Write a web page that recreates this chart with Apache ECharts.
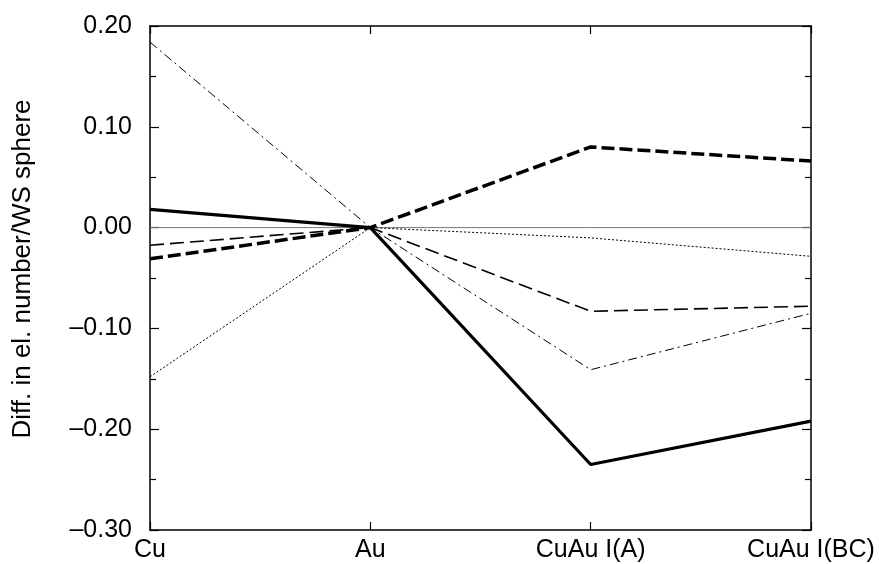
<!DOCTYPE html>
<html>
<head>
<meta charset="utf-8">
<script src="https://cdn.jsdelivr.net/npm/echarts@6/dist/echarts.min.js"></script>
<style>html,body{margin:0;padding:0;background:#fff;}#c{width:879px;height:564px;}</style>
</head>
<body>
<div id="c"></div>
<script>
var categories = ['Cu', 'Au', 'CuAu I(A)', 'CuAu I(BC)'];
var thickSolid  = [0.018, 0.0, -0.235, -0.192];
var thickDashed = [-0.031, 0.0, 0.080, 0.066];
var medDashed   = [-0.0175, 0.0, -0.083, -0.078];
var dashDot     = [0.184, 0.0, -0.141, -0.085];
var dotted      = [-0.148, 0.0, -0.0102, -0.0285];
var zeroLine    = [0, 0, 0, 0];
var yMin = -0.3, yMax = 0.2, yStep = 0.1;
var yName = 'Diff. in el. number/WS sphere';

var FONT = '"Liberation Sans", Arial, Helvetica, sans-serif';
var chart = echarts.init(document.getElementById('c'), null, {renderer: 'canvas'});
function fmt(v) {
  if (Math.abs(v) < 1e-9) return '0.00';
  var s = Math.abs(v).toFixed(2);
  return v < 0 ? '\u2013' + s : s;
}
var axisLine = {show: true, onZero: false, lineStyle: {color: '#000', width: 1.5}};
function line(name, data, width, type, z, color) {
  return {
    name: name, type: 'line', data: data, symbol: 'none', z: z,
    xAxisIndex: 0, yAxisIndex: 0,
    lineStyle: {color: color || '#000', width: width, type: type, cap: 'butt'},
    animation: false
  };
}
chart.setOption({
  animation: false,
  backgroundColor: '#fff',
  grid: {left: 150, right: 68, top: 26, bottom: 34, containLabel: false, outerBoundsMode: 'none'},
  xAxis: [{
    type: 'category', data: categories, boundaryGap: false, position: 'bottom',
    axisLine: axisLine,
    axisTick: {show: true, inside: true, length: 8, lineStyle: {color: '#000', width: 1.2}},
    axisLabel: {color: '#000', fontSize: 25, fontFamily: FONT, margin: 8},
    splitLine: {show: false}
  }, {
    type: 'category', data: categories, boundaryGap: false, position: 'top',
    axisLine: axisLine,
    axisTick: {show: true, inside: true, length: 8, lineStyle: {color: '#000', width: 1.2}},
    axisLabel: {show: false}, splitLine: {show: false}
  }],
  yAxis: [{
    type: 'value', min: yMin, max: yMax, interval: yStep, position: 'left',
    axisLine: axisLine,
    axisTick: {show: true, inside: true, length: 9, lineStyle: {color: '#000', width: 1.2}},
    minorTick: {show: true, splitNumber: 2, length: 6, lineStyle: {color: '#000', width: 1.2}},
    axisLabel: {color: '#000', fontSize: 25, fontFamily: FONT, margin: 18, formatter: fmt},
    splitLine: {show: false}
  }, {
    type: 'value', min: yMin, max: yMax, interval: yStep, position: 'right',
    axisLine: axisLine,
    axisTick: {show: true, inside: true, length: 9, lineStyle: {color: '#000', width: 1.2}},
    minorTick: {show: true, splitNumber: 2, length: 6, lineStyle: {color: '#000', width: 1.2}},
    axisLabel: {show: false}, splitLine: {show: false}
  }],
  graphic: [{
    type: 'text', x: 23, y: 269, rotation: Math.PI / 2,
    style: {text: yName, fill: '#000', fontSize: 26, fontFamily: FONT,
            textAlign: 'center', textVerticalAlign: 'middle'}
  }],
  series: [
    line('zero', zeroLine, 1, 'solid', 1, '#777'),
    line('dotted', dotted, 1, [2, 2], 2),
    line('dashDot', dashDot, 1, [9, 4, 2, 4], 3),
    line('medDashed', medDashed, 1.6, [14, 6], 4),
    line('thickDashed', thickDashed, 3.5, [13, 5], 5),
    line('thickSolid', thickSolid, 3.2, 'solid', 6)
  ]
});
</script>
</body>
</html>
